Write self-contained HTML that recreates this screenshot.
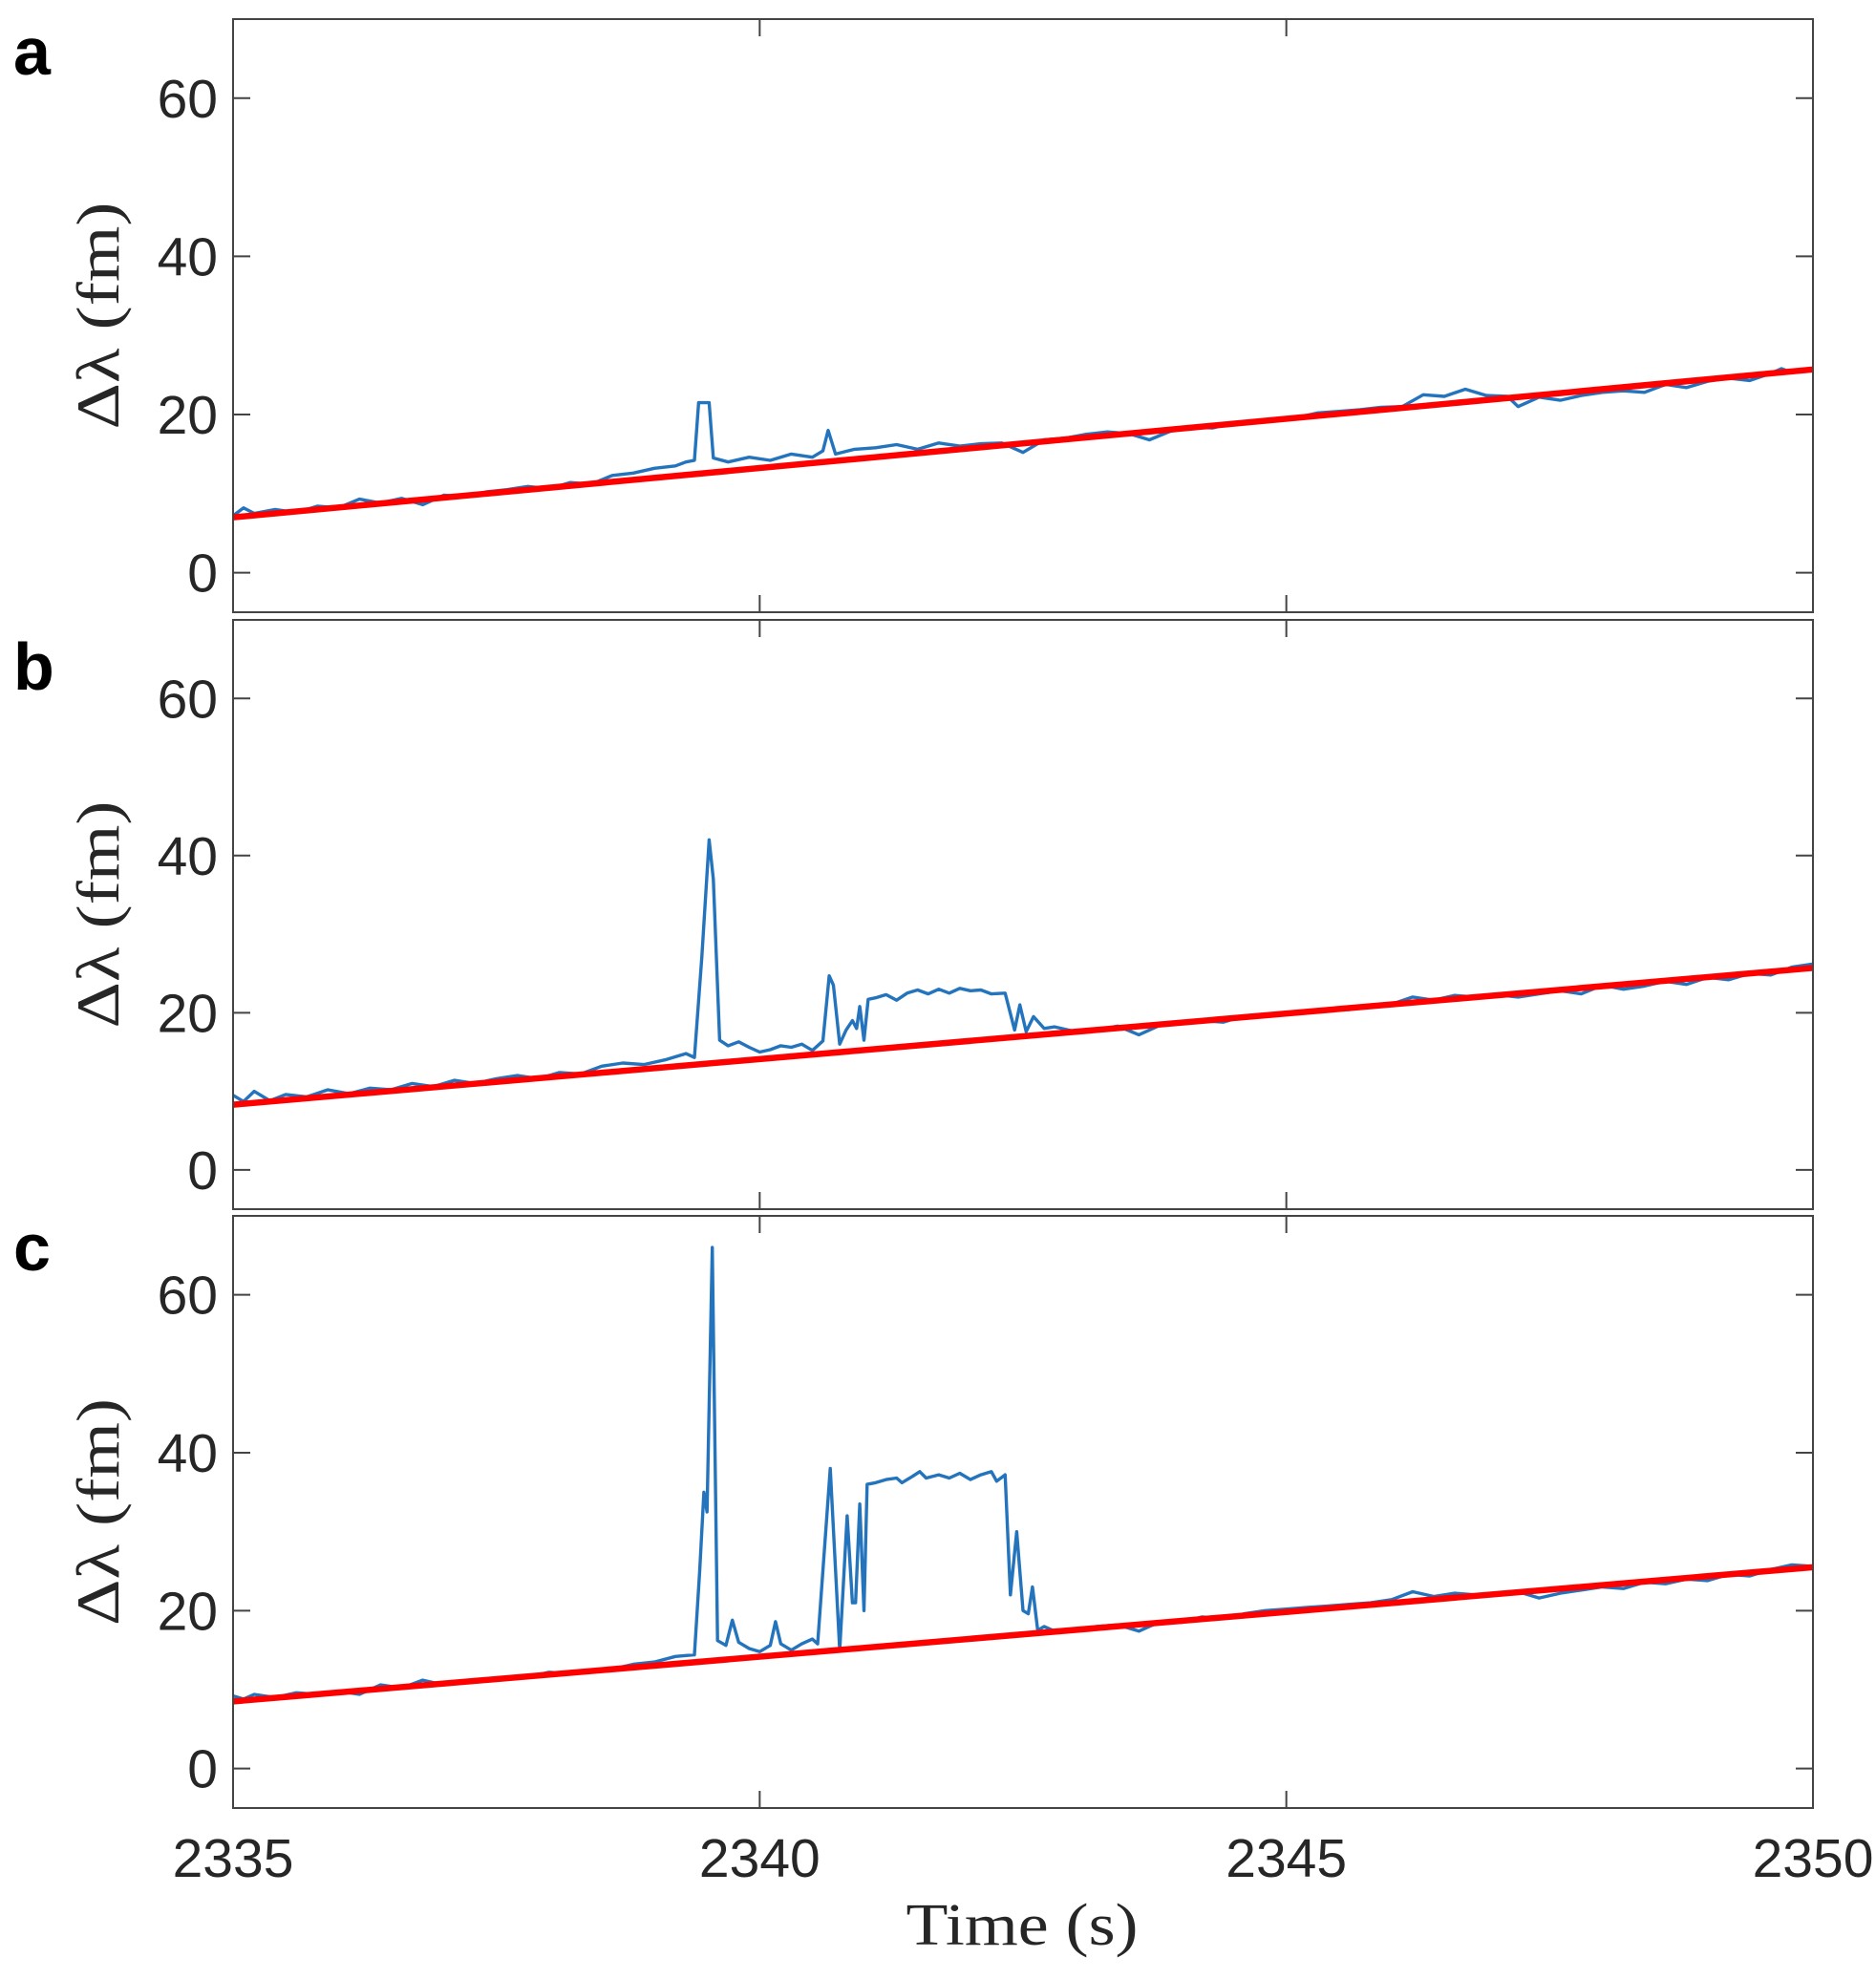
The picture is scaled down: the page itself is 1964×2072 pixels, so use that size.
<!DOCTYPE html>
<html><head><meta charset="utf-8">
<style>
html,body{margin:0;padding:0;background:#fff;}
svg{display:block;}
</style></head>
<body>
<svg id="chart" width="1964" height="2072" viewBox="0 0 1964 2072" xmlns="http://www.w3.org/2000/svg"></svg>
<script>
// ---- data ----
const xTicks = [2335, 2340, 2345, 2350];
const xTickLabels = ["2335", "2340", "2345", "2350"];
const yTicks = [0, 20, 40, 60];
const yTickLabels = ["0", "20", "40", "60"];
const panelLetters = ["a", "b", "c"];

const timesA = [2335.0,2335.1,2335.2,2335.4,2335.6,2335.8,2336.0,2336.2,2336.4,2336.6,2336.8,2337.0,2337.2,2337.4,2337.6,2337.8,2338.0,2338.2,2338.4,2338.6,2338.8,2339.0,2339.2,2339.3,2339.38,2339.42,2339.52,2339.56,2339.7,2339.9,2340.1,2340.3,2340.5,2340.6,2340.65,2340.72,2340.9,2341.1,2341.3,2341.5,2341.7,2341.9,2342.1,2342.3,2342.5,2342.7,2342.9,2343.1,2343.3,2343.5,2343.7,2343.9,2344.1,2344.3,2344.5,2344.7,2344.9,2345.1,2345.3,2345.5,2345.7,2345.9,2346.1,2346.3,2346.5,2346.7,2346.9,2347.1,2347.2,2347.4,2347.6,2347.8,2348.0,2348.2,2348.4,2348.6,2348.8,2349.0,2349.2,2349.4,2349.6,2349.7,2349.8,2350.0];
const valuesA = [7.2,8.2,7.5,8.0,7.6,8.4,8.2,9.3,8.8,9.4,8.6,9.8,9.6,10.2,10.5,10.9,10.6,11.4,11.2,12.3,12.6,13.2,13.5,14.0,14.2,21.5,21.5,14.5,14.0,14.6,14.2,15.0,14.6,15.4,18.0,15.0,15.6,15.8,16.2,15.6,16.4,16.0,16.3,16.4,15.2,16.8,17.0,17.5,17.8,17.6,16.8,17.9,18.4,18.3,19.0,19.2,19.4,19.6,20.2,20.4,20.6,20.9,21.0,22.5,22.3,23.2,22.4,22.3,21.0,22.2,21.8,22.4,22.8,23.0,22.8,23.8,23.4,24.2,24.6,24.3,25.2,25.8,25.3,25.8];
const fitA = [7.0, 25.7];

const timesB = [2335.0,2335.1,2335.2,2335.35,2335.5,2335.7,2335.9,2336.1,2336.3,2336.5,2336.7,2336.9,2337.1,2337.3,2337.5,2337.7,2337.9,2338.1,2338.3,2338.5,2338.7,2338.9,2339.1,2339.3,2339.38,2339.45,2339.52,2339.56,2339.62,2339.7,2339.8,2339.9,2340.0,2340.1,2340.2,2340.3,2340.4,2340.5,2340.6,2340.66,2340.7,2340.76,2340.82,2340.88,2340.92,2340.95,2340.99,2341.03,2341.1,2341.2,2341.3,2341.4,2341.5,2341.6,2341.7,2341.8,2341.9,2342.0,2342.1,2342.2,2342.33,2342.42,2342.47,2342.53,2342.6,2342.7,2342.8,2343.0,2343.2,2343.4,2343.6,2343.8,2344.0,2344.2,2344.4,2344.6,2344.8,2345.0,2345.2,2345.4,2345.6,2345.8,2346.0,2346.2,2346.4,2346.6,2346.8,2347.0,2347.2,2347.4,2347.6,2347.8,2348.0,2348.2,2348.4,2348.6,2348.8,2349.0,2349.2,2349.4,2349.6,2349.8,2350.0];
const valuesB = [9.5,8.7,10.0,8.8,9.6,9.3,10.2,9.7,10.4,10.2,11.0,10.6,11.4,11.0,11.6,12.0,11.6,12.4,12.2,13.2,13.6,13.4,14.0,14.8,14.3,27,42,37,16.5,15.8,16.3,15.6,15.0,15.3,15.8,15.6,16.0,15.2,16.4,24.7,23.5,16.0,17.8,19.0,18.0,20.8,16.5,21.7,21.9,22.3,21.6,22.5,22.9,22.4,23.0,22.5,23.1,22.8,22.9,22.4,22.5,17.8,21.0,17.6,19.5,18.0,18.2,17.6,17.8,18.3,17.2,18.4,18.6,19.0,18.8,19.6,19.8,20.0,20.2,20.5,20.4,20.8,21.1,22.0,21.6,22.2,22.0,22.3,22.0,22.4,22.8,22.4,23.5,23.0,23.4,24.0,23.6,24.5,24.2,25.0,24.8,25.8,26.2];
const fitB = [8.3, 25.7];

const timesC = [2335.0,2335.1,2335.2,2335.4,2335.6,2335.8,2336.0,2336.2,2336.4,2336.6,2336.8,2337.0,2337.2,2337.4,2337.6,2337.8,2338.0,2338.2,2338.4,2338.6,2338.8,2339.0,2339.2,2339.38,2339.43,2339.47,2339.5,2339.55,2339.6,2339.68,2339.74,2339.8,2339.9,2340.0,2340.1,2340.15,2340.2,2340.3,2340.4,2340.5,2340.55,2340.67,2340.76,2340.83,2340.88,2340.91,2340.95,2340.99,2341.02,2341.1,2341.2,2341.3,2341.35,2341.45,2341.52,2341.58,2341.7,2341.8,2341.9,2342.0,2342.1,2342.2,2342.25,2342.33,2342.38,2342.44,2342.5,2342.55,2342.59,2342.64,2342.7,2342.8,2343.0,2343.2,2343.4,2343.6,2343.8,2344.0,2344.2,2344.4,2344.6,2344.8,2345.0,2345.2,2345.4,2345.6,2345.8,2346.0,2346.2,2346.4,2346.6,2346.8,2347.0,2347.2,2347.4,2347.6,2347.8,2348.0,2348.2,2348.4,2348.6,2348.8,2349.0,2349.2,2349.4,2349.6,2349.8,2350.0];
const valuesC = [9.2,8.8,9.4,9.0,9.6,9.4,9.8,9.4,10.6,10.2,11.2,10.6,11.0,11.2,11.4,11.6,12.2,12.0,12.4,12.6,13.2,13.5,14.2,14.4,25,35,32.5,66,16.2,15.6,18.8,16.0,15.2,14.8,15.6,18.6,15.8,15.0,15.8,16.4,15.8,38,15,32,21,21,33.5,20,36,36.2,36.6,36.8,36.2,37.0,37.6,36.8,37.2,36.8,37.4,36.6,37.2,37.6,36.4,37.2,22,30,20,19.6,23,17.5,18.0,17.4,17.6,18.0,18.2,17.4,18.6,18.5,19.2,19.0,19.6,20.0,20.2,20.4,20.6,20.8,21.0,21.4,22.4,21.8,22.2,22.0,22.2,22.4,21.6,22.2,22.6,23.0,22.8,23.6,23.4,24.0,23.8,24.6,24.4,25.2,25.8,25.6];
const fitC = [8.5, 25.5];

// ---- layout ----
const NS = "http://www.w3.org/2000/svg";
const svg = document.getElementById("chart");
const X0 = 244, X1 = 1898, XMIN = 2335, XMAX = 2350;
const YMIN = -5, YMAX = 70;
const panelTops = [20, 649, 1273];
const panelHeights = [621, 617, 620];
const panels = [
  {t: timesA, v: valuesA, f: fitA},
  {t: timesB, v: valuesB, f: fitB},
  {t: timesC, v: valuesC, f: fitC}
];
const letterBase = [78, 722, 1330];
function xs(t){ return X0 + (t - XMIN) / (XMAX - XMIN) * (X1 - X0); }
function mk(tag, attrs){ const e = document.createElementNS(NS, tag); for (const k in attrs) e.setAttribute(k, attrs[k]); return e; }

panels.forEach((p, i) => {
  const top = panelTops[i], PH = panelHeights[i], bot = top + PH;
  const ys = v => bot - (v - YMIN) / (YMAX - YMIN) * PH;
  const g = mk("g", {});
  
  
  svg.appendChild(g);

  const d = p.t.map((t, k) => (k ? "L" : "M") + xs(t).toFixed(1) + " " + ys(p.v[k]).toFixed(1)).join(" ");
  const line = mk("path", {d: d, fill: "none", stroke: "#2474bd", "stroke-width": 3.4, "stroke-linejoin": "round"});
  
  
  g.appendChild(line);

  const fit = mk("line", {x1: xs(XMIN), y1: ys(p.f[0]), x2: xs(XMAX), y2: ys(p.f[1]), stroke: "#ff0000", "stroke-width": 6.5});
  
  
  g.appendChild(fit);

  const fr = mk("rect", {x: X0, y: top, width: X1 - X0, height: PH, fill: "none", stroke: "#444", "stroke-width": 2});
  
  
  g.appendChild(fr);

  yTicks.forEach((yv, k) => {
    const y = ys(yv);
    const tk = mk("path", {d: `M${X0} ${y}h18M${X1} ${y}h-18`, stroke: "#444", "stroke-width": 2});
    
    
    g.appendChild(tk);
    const lb = mk("text", {x: 228, y: y + 20, "text-anchor": "end", "font-family": "Liberation Sans, sans-serif", "font-size": 57, fill: "#262626"});
    lb.textContent = yTickLabels[k];
    
    
    g.appendChild(lb);
  });
  xTicks.forEach((xv) => {
    const x = xs(xv);
    const tk = mk("path", {d: `M${x} ${bot}v-18M${x} ${top}v18`, stroke: "#444", "stroke-width": 2});
    
    
    g.appendChild(tk);
  });

  const cy = top + PH / 2;
  const yt = mk("text", {x: 0, y: 0, transform: `translate(124 ${cy}) rotate(-90)`, "text-anchor": "middle", "font-family": "Liberation Serif, serif", "font-size": 64, fill: "#262626", textLength: 238, lengthAdjust: "spacingAndGlyphs"});
  yt.textContent = "Δλ (fm)";
  
  
  g.appendChild(yt);

  const pl = mk("text", {x: 14, y: letterBase[i], "font-family": "Liberation Sans, sans-serif", "font-weight": "bold", "font-size": 70, fill: "#000"});
  pl.textContent = panelLetters[i];
  
  
  g.appendChild(pl);
});

xTicks.forEach((xv, k) => {
  const lb = mk("text", {x: xs(xv), y: 1965, "text-anchor": "middle", "font-family": "Liberation Sans, sans-serif", "font-size": 57, fill: "#262626"});
  lb.textContent = xTickLabels[k];
  
  
  svg.appendChild(lb);
});
const xt = mk("text", {x: 1070, y: 2036, "text-anchor": "middle", "font-family": "Liberation Serif, serif", "font-size": 62, fill: "#262626", textLength: 243, lengthAdjust: "spacingAndGlyphs"});
xt.textContent = "Time (s)";


svg.appendChild(xt);
</script>
</body></html>
